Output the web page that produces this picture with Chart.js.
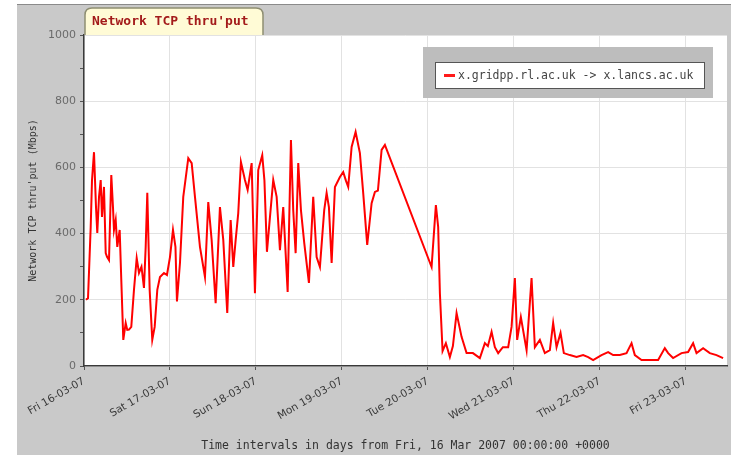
<!DOCTYPE html>
<html>
<head>
<meta charset="utf-8">
<script src="https://cdn.jsdelivr.net/npm/chart.js@4.4.0/dist/chart.umd.min.js"></script>
<style>
  html, body { margin: 0; padding: 0; background: #fff; }
  #wrap { position: absolute; left: 17px; top: 4px; width: 714px; height: 451px; border-top: 1px solid #8a8a8a; background: #c9c9c9; }
  canvas { display: block; }
</style>
</head>
<body>
<div id="wrap"><canvas id="tcpChart" width="714" height="450"></canvas></div>
<script>
// data: hours since Fri 16 Mar 2007 00:00 and throughput in Mbps
var hours = [0.56, 1.12, 1.87, 2.23, 2.79, 3.35, 3.71, 4.19, 4.66, 5.02, 5.58, 6.06, 6.42, 6.98, 7.62, 8.09,
  8.37, 8.85, 9.29, 9.96, 10.41, 10.97, 11.64, 12.08, 12.56, 13.2, 13.95, 14.71, 15.35, 16.05, 16.74, 17.22,
  17.67, 18.33, 19.06, 19.73, 20.46, 21.21, 22.33, 23.16, 24.0, 24.84, 25.53, 25.95, 26.79, 27.71, 29.11, 30.06,
  30.98, 32.37, 33.77, 34.69, 35.63, 36.75, 37.95, 38.88, 39.99, 40.94, 41.67, 42.34, 43.06, 43.81, 44.93, 45.68,
  46.8, 47.72, 48.64, 49.76, 50.37, 51.07, 51.91, 52.83, 53.78, 54.7, 55.62, 56.85, 57.77, 58.41, 59.08, 59.81,
  60.56, 61.48, 62.79, 63.99, 64.94, 65.86, 67.06, 67.73, 68.37, 69.13, 70.05, 71.44, 72.36, 73.12, 73.76, 74.71,
  75.82, 77.02, 77.94, 79.06, 80.29, 81.21, 82.05, 83.08, 84.0, 97.03, 98.23, 98.87, 99.35, 100.1, 101.02, 102.14,
  102.98, 104.01, 105.4, 106.8, 108.56, 110.51, 111.91, 112.74, 113.78, 114.7, 115.62, 116.93, 118.41, 119.36, 120.28, 120.92,
  121.95, 123.55, 124.94, 125.86, 127.26, 128.65, 130.05, 130.97, 131.92, 133.03, 133.95, 135.63, 137.5, 139.34, 140.74, 142.13,
  144.47, 146.32, 147.71, 149.58, 151.45, 152.85, 153.77, 155.64, 157.95, 160.27, 162.14, 163.07, 164.45, 166.8, 168.64, 170.04,
  170.99, 172.83, 174.7, 176.57, 178.41];
var mbps = [200, 205, 420, 560, 646, 480, 402, 511, 562, 450, 541, 341, 330, 320, 577, 480,
  411, 441, 360, 411, 260, 79, 130, 109, 110, 118, 230, 326, 281, 300, 236, 360,
  523, 230, 79, 118, 230, 269, 281, 275, 329, 411, 360, 195, 311, 511, 628, 613,
  511, 360, 269, 495, 381, 190, 480, 381, 160, 441, 299, 381, 462, 616, 562, 532,
  613, 220, 592, 637, 560, 345, 450, 562, 511, 350, 480, 224, 683, 471, 341, 613,
  471, 372, 251, 511, 329, 299, 471, 523, 480, 311, 541, 571, 586, 560, 541, 662,
  707, 643, 523, 366, 492, 526, 530, 653, 668, 299, 486, 420, 220, 45, 69, 27,
  60, 160, 88, 39, 39, 24, 69, 60, 103, 57, 39, 57, 57, 118, 266, 79,
  148, 48, 266, 57, 79, 39, 48, 130, 57, 100, 39, 33, 27, 33, 27, 18,
  33, 42, 33, 33, 39, 69, 33, 18, 18, 18, 54, 39, 24, 39, 42, 69,
  39, 54, 39, 33, 24];
var dayLabels = ["Fri 16-03-07", "Sat 17-03-07", "Sun 18-03-07", "Mon 19-03-07",
  "Tue 20-03-07", "Wed 21-03-07", "Thu 22-03-07", "Fri 23-03-07"];
var yTicks = [0, 200, 400, 600, 800, 1000];
var seriesName = "x.gridpp.rl.ac.uk -> x.lancs.ac.uk";
var chartTitle = "Network TCP thru'put";

var points = hours.map(function (h, i) { return { x: h, y: mbps[i] }; });

// white plot area, cream title tab and boxed legend
var framePlugin = {
  id: 'frame',
  beforeDraw: function (chart) {
    var ctx = chart.ctx, a = chart.chartArea;
    ctx.save();
    ctx.fillStyle = '#c9c9c9';
    ctx.fillRect(0, 0, chart.width, chart.height);
    ctx.fillStyle = '#ffffff';
    ctx.fillRect(a.left, a.top, a.right - a.left, a.bottom - a.top);
    ctx.restore();
  },
  afterDraw: function (chart) {
    var ctx = chart.ctx, a = chart.chartArea;
    ctx.save();
    // title tab
    var x0 = a.left + 1, x1 = a.left + 179, y0 = 3, y1 = a.top, r = 7;
    ctx.beginPath();
    ctx.moveTo(x0, y1);
    ctx.lineTo(x0, y0 + r);
    ctx.quadraticCurveTo(x0, y0, x0 + r, y0);
    ctx.lineTo(x1 - r, y0);
    ctx.quadraticCurveTo(x1, y0, x1, y0 + r);
    ctx.lineTo(x1, y1);
    ctx.fillStyle = '#fffbd6';
    ctx.fill();
    ctx.strokeStyle = '#8e8e72';
    ctx.lineWidth = 1.5;
    ctx.stroke();
    ctx.fillStyle = '#a31b1b';
    ctx.font = 'bold 13px "DejaVu Sans Mono"';
    ctx.textBaseline = 'middle';
    ctx.fillText(chartTitle, x0 + 7, 17);

    // legend
    ctx.fillStyle = '#bdbdbd';
    ctx.fillRect(406, 42, 290, 51);
    ctx.fillStyle = '#ffffff';
    ctx.fillRect(418, 57, 269, 26);
    ctx.strokeStyle = '#555';
    ctx.lineWidth = 1;
    ctx.strokeRect(418.5, 57.5, 269, 26);
    ctx.strokeStyle = '#ff1a1a';
    ctx.lineWidth = 3;
    ctx.beginPath();
    ctx.moveTo(427, 70.5);
    ctx.lineTo(438, 70.5);
    ctx.stroke();
    ctx.fillStyle = '#444';
    ctx.font = '11.5px "DejaVu Sans Mono"';
    ctx.fillText(seriesName, 441, 71);
    ctx.restore();
  }
};

var ctx = document.getElementById('tcpChart').getContext('2d');
var chart = new Chart(ctx, {
  type: 'line',
  data: {
    datasets: [{
      label: seriesName,
      data: points,
      borderColor: '#ff0000',
      borderWidth: 2,
      pointRadius: 0,
      tension: 0,
      fill: false
    }]
  },
  options: {
    responsive: false,
    animation: false,
    layout: { padding: { top: 30, left: 10, right: 4, bottom: 2 } },
    plugins: {
      legend: { display: false },
      title: { display: false },
      tooltip: { enabled: false }
    },
    scales: {
      x: {
        type: 'linear',
        min: 0,
        max: 179.5,
        afterFit: function (s) { s.height = 87; },
        border: { color: '#3a3a3a', width: 1.5 },
        grid: { color: '#e2e2e2', tickColor: '#555', tickLength: 4 },
        ticks: {
          stepSize: 24,
          includeBounds: false,
          autoSkip: false,
          minRotation: 30,
          maxRotation: 30,
          padding: 5,
          color: '#3a3a3a',
          font: { family: 'DejaVu Sans', size: 10.5 },
          callback: function (v) { return v % 24 === 0 ? dayLabels[v / 24] : ''; }
        },
        title: {
          display: true,
          text: 'Time intervals in days from Fri, 16 Mar 2007 00:00:00 +0000',
          color: '#333',
          padding: 0,
          font: { family: 'DejaVu Sans Mono', size: 11.5 }
        }
      },
      y: {
        min: 0,
        max: 1000,
        afterFit: function (s) { s.width = 57; },
        border: { color: '#3a3a3a', width: 1.5 },
        grid: {
          color: function (c) { return yTicks.indexOf(c.tick.value) >= 0 ? '#e2e2e2' : 'rgba(0,0,0,0)'; },
          tickColor: '#555',
          tickLength: 4
        },
        ticks: {
          stepSize: 100,
          padding: 4,
          color: '#6a6a6a',
          font: { family: 'DejaVu Sans', size: 11 },
          callback: function (v) { return yTicks.indexOf(v) >= 0 ? v : ''; }
        },
        title: {
          display: true,
          text: "Network TCP thru'put (Mbps)",
          color: '#333',
          padding: 0,
          font: { family: 'DejaVu Sans Mono', size: 10 }
        }
      }
    }
  },
  plugins: [framePlugin]
});
</script>
</body>
</html>
